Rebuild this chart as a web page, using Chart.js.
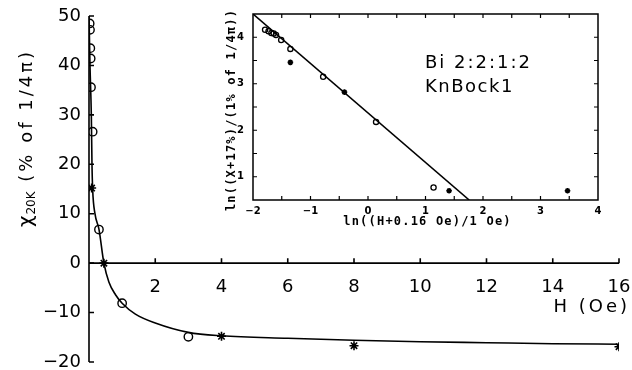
<!DOCTYPE html>
<html>
<head>
<meta charset="utf-8">
<script src="https://cdn.jsdelivr.net/npm/chart.js@4.4.1/dist/chart.umd.min.js"></script>
<style>
  html, body { margin: 0; padding: 0; background: #fff; }
  #wrap { position: relative; width: 632px; height: 370px; }
  #main { position: absolute; left: 0; top: 0; }
  #inset { position: absolute; left: 222px; top: 0; }
</style>
</head>
<body>
<div id="wrap">
  <canvas id="main" width="632" height="370"></canvas>
  <canvas id="inset" width="390" height="232"></canvas>
</div>
<script>
// ---- main panel: chi at 20 K (% of 1/4pi) against applied field H (Oe) ----
const circleField = [0.02, 0.03, 0.04, 0.05, 0.06, 0.11, 0.30, 1.00, 3.00];
const circleChi   = [48.5, 47.2, 43.5, 41.4, 35.6, 26.6, 6.8, -8.1, -14.9];

const starField = [0.08, 0.45, 4, 8, 16];
const starChi   = [15.2, 0.0, -14.8, -16.7, -16.9];

// fitted curve, read along its length
const curveField = [0.0, 0.03, 0.07, 0.09, 0.11, 0.18, 0.30, 0.45, 0.60, 0.80, 1.0, 1.4, 2.0, 3.0, 4.0, 6.0, 8.0, 10.0, 12.0, 14.0, 16.0];
const curveChi   = [50, 40, 30, 20, 15, 10, 6.9, 0.0, -3.8, -6.4, -8.1, -10.3, -12.1, -14.0, -14.7, -15.2, -15.6, -15.9, -16.1, -16.3, -16.4];

const mainXTicks = [2, 4, 6, 8, 10, 12, 14, 16];
const mainYTicks = [-20, -10, 0, 10, 20, 30, 40, 50];

// ---- inset: ln((chi+17%)/(1%)) against ln((H+0.16 Oe)/1 Oe) ----
const insetCircleX = [-1.79, -1.73, -1.68, -1.64, -1.60, -1.51, -1.35, -0.78, 0.14, 1.14];
const insetCircleY = [4.16, 4.13, 4.09, 4.08, 4.05, 3.94, 3.75, 3.15, 2.18, 0.77];

const insetStarX = [-1.35, -0.41, 1.41, 3.47];
const insetStarY = [3.46, 2.82, 0.70, 0.70];

const insetLineX = [-2.0, 1.76];
const insetLineY = [4.5, 0.5];

const insetXTicks = [-2, -1, 0, 1, 2, 3, 4];
const insetYTicks = [1, 2, 3, 4];

const pairs = (xs, ys) => xs.map((v, i) => ({ x: v, y: ys[i] }));
const signed = v => (v < 0 ? '\u2212' + Math.abs(v) : String(v));
const INK = '#000';

// ---------------- main chart ----------------
const mainDecor = {
  id: 'mainDecor',
  afterDraw(chart) {
    const { ctx, chartArea, scales: { x, y } } = chart;
    ctx.save();
    ctx.strokeStyle = INK;
    ctx.fillStyle = INK;
    ctx.lineWidth = 1.6;
    ctx.lineCap = 'butt';

    // vertical axis with inward ticks
    const ax = chartArea.left;
    ctx.beginPath();
    ctx.moveTo(ax, y.getPixelForValue(y.max));
    ctx.lineTo(ax, y.getPixelForValue(y.min));
    mainYTicks.forEach(v => {
      const py = y.getPixelForValue(v);
      ctx.moveTo(ax, py);
      ctx.lineTo(ax + 5, py);
    });
    ctx.stroke();

    // horizontal axis through chi = 0 with upward ticks
    const ay = y.getPixelForValue(0);
    ctx.beginPath();
    ctx.moveTo(x.getPixelForValue(x.min), ay);
    ctx.lineTo(x.getPixelForValue(x.max), ay);
    mainXTicks.forEach(v => {
      const px = x.getPixelForValue(v);
      ctx.moveTo(px, ay);
      ctx.lineTo(px, ay - 5);
    });
    ctx.stroke();

    // x title
    ctx.font = '18px "DejaVu Sans"';
    ctx.letterSpacing = '3px';
    ctx.textAlign = 'right';
    ctx.textBaseline = 'middle';
    ctx.fillText('H (Oe)', chartArea.right + 11, ay + 44);

    // y title, rotated, with subscript
    ctx.translate(32, 138);
    ctx.rotate(-Math.PI / 2);
    ctx.textAlign = 'left';
    ctx.textBaseline = 'alphabetic';
    ctx.letterSpacing = '0px';
    ctx.font = '20px "DejaVu Sans"';
    const wChi = ctx.measureText('\u03c7').width;
    ctx.font = '12px "DejaVu Sans"';
    const wSub = ctx.measureText('20K').width;
    ctx.font = '18px "DejaVu Sans"';
    ctx.letterSpacing = '3px';
    const rest = ' (% of 1/4\u03c0)';
    const wRest = ctx.measureText(rest).width;
    let cx = -(wChi + wSub + 2 + wRest) / 2;
    ctx.letterSpacing = '0px';
    ctx.font = '20px "DejaVu Sans"';
    ctx.fillText('\u03c7', cx, 0);
    cx += wChi + 1;
    ctx.font = '12px "DejaVu Sans"';
    ctx.fillText('20K', cx, 3);
    cx += wSub + 1;
    ctx.font = '18px "DejaVu Sans"';
    ctx.letterSpacing = '3px';
    ctx.fillText(rest, cx, 0);
    ctx.restore();
  }
};

new Chart(document.getElementById('main'), {
  type: 'scatter',
  data: {
    datasets: [
      {
        type: 'line',
        data: pairs(curveField, curveChi),
        borderColor: INK,
        borderWidth: 1.6,
        pointRadius: 0,
        fill: false,
        cubicInterpolationMode: 'monotone'
      },
      {
        data: pairs(circleField, circleChi),
        pointStyle: 'circle',
        pointRadius: 4.2,
        borderColor: INK,
        backgroundColor: 'rgba(0,0,0,0)',
        pointBorderWidth: 1.4
      },
      {
        data: pairs(starField, starChi),
        pointStyle: 'star',
        pointRadius: 4.5,
        borderColor: INK,
        backgroundColor: INK,
        pointBorderWidth: 1.6
      }
    ]
  },
  options: {
    responsive: false,
    animation: false,
    events: [],
    layout: { padding: { left: 0, top: 16, right: 13, bottom: 8 } },
    plugins: { legend: { display: false }, tooltip: { enabled: false } },
    scales: {
      x: {
        type: 'linear',
        min: 0, max: 16,
        position: { y: 0 },
        grid: { display: false, drawTicks: false },
        border: { display: false },
        afterBuildTicks: s => { s.ticks = mainXTicks.map(v => ({ value: v })); },
        afterFit: s => { s.paddingLeft = 0; s.paddingRight = 0; },
        ticks: {
          padding: 13,
          autoSkip: false,
          maxRotation: 0,
          color: INK,
          font: { family: 'DejaVu Sans', size: 18 },
          callback: v => signed(v)
        }
      },
      y: {
        type: 'linear',
        min: -20, max: 50,
        position: 'left',
        grid: { display: false, drawTicks: false },
        border: { display: false },
        afterBuildTicks: s => { s.ticks = mainYTicks.map(v => ({ value: v })); },
        afterFit: s => { s.width = 89; s.paddingTop = 0; s.paddingBottom = 0; },
        ticks: {
          padding: 8,
          autoSkip: false,
          color: INK,
          font: { family: 'DejaVu Sans', size: 18 },
          callback: v => signed(v)
        }
      }
    }
  },
  plugins: [mainDecor]
});

// ---------------- inset chart ----------------
const insetDecor = {
  id: 'insetDecor',
  afterDraw(chart) {
    const { ctx, chartArea: a, scales: { x, y } } = chart;
    ctx.save();
    ctx.strokeStyle = INK;
    ctx.fillStyle = INK;
    ctx.lineWidth = 1.5;
    ctx.strokeRect(a.left, a.top, a.right - a.left, a.bottom - a.top);

    // half-unit tick marks pointing inward on every side
    ctx.lineWidth = 1.2;
    ctx.beginPath();
    for (let v = x.min + 0.5; v < x.max; v += 0.5) {
      const px = x.getPixelForValue(v);
      ctx.moveTo(px, a.bottom); ctx.lineTo(px, a.bottom - 4);
      ctx.moveTo(px, a.top); ctx.lineTo(px, a.top + 4);
    }
    for (let v = y.min + 0.5; v < y.max; v += 0.5) {
      const py = y.getPixelForValue(v);
      ctx.moveTo(a.left, py); ctx.lineTo(a.left + 4, py);
      ctx.moveTo(a.right, py); ctx.lineTo(a.right - 4, py);
    }
    ctx.stroke();

    // sample legend text
    ctx.font = '18px "DejaVu Sans"';
    ctx.letterSpacing = '2px';
    ctx.textAlign = 'left';
    ctx.textBaseline = 'alphabetic';
    ctx.fillText('Bi 2:2:1:2', 203, 68);
    ctx.letterSpacing = '1.5px';
    ctx.fillText('KnBock1', 203, 92);

    // axis titles
    ctx.font = 'bold 12px "DejaVu Sans Mono"';
    ctx.letterSpacing = '1.2px';
    ctx.textAlign = 'center';
    ctx.textBaseline = 'middle';
    ctx.fillText('ln((H+0.16 Oe)/1 Oe)', (a.left + a.right) / 2 + 2, 222);
    ctx.translate(10, 110);
    ctx.rotate(-Math.PI / 2);
    ctx.fillText('ln((X+17%)/(1% of 1/4\u03c0))', 0, 0);
    ctx.restore();
  }
};

new Chart(document.getElementById('inset'), {
  type: 'scatter',
  data: {
    datasets: [
      {
        type: 'line',
        data: pairs(insetLineX, insetLineY),
        borderColor: INK,
        borderWidth: 1.6,
        pointRadius: 0,
        fill: false
      },
      {
        data: pairs(insetCircleX, insetCircleY),
        pointStyle: 'circle',
        pointRadius: 2.6,
        borderColor: INK,
        backgroundColor: 'rgba(0,0,0,0)',
        pointBorderWidth: 1.3
      },
      {
        data: pairs(insetStarX, insetStarY),
        pointStyle: 'star',
        pointRadius: 2.8,
        borderColor: INK,
        backgroundColor: INK,
        pointBorderWidth: 1.6
      }
    ]
  },
  options: {
    responsive: false,
    animation: false,
    events: [],
    layout: { padding: { left: 0, top: 14, right: 14, bottom: 0 } },
    plugins: { legend: { display: false }, tooltip: { enabled: false } },
    scales: {
      x: {
        type: 'linear',
        min: -2, max: 4,
        position: 'bottom',
        grid: { display: false, drawTicks: false },
        border: { display: false },
        afterBuildTicks: s => { s.ticks = insetXTicks.map(v => ({ value: v })); },
        afterFit: s => { s.height = 32; s.paddingLeft = 0; s.paddingRight = 0; },
        ticks: {
          padding: 5,
          autoSkip: false,
          maxRotation: 0,
          color: INK,
          font: { family: 'DejaVu Sans', size: 10, weight: 'bold' },
          callback: v => signed(v)
        }
      },
      y: {
        type: 'linear',
        min: 0.5, max: 4.5,
        position: 'left',
        grid: { display: false, drawTicks: false },
        border: { display: false },
        afterBuildTicks: s => { s.ticks = insetYTicks.map(v => ({ value: v })); },
        afterFit: s => { s.width = 31; s.paddingTop = 0; s.paddingBottom = 0; },
        ticks: {
          padding: 9,
          autoSkip: false,
          color: INK,
          font: { family: 'DejaVu Sans', size: 10, weight: 'bold' },
          callback: v => signed(v)
        }
      }
    }
  },
  plugins: [insetDecor]
});
</script>
</body>
</html>
